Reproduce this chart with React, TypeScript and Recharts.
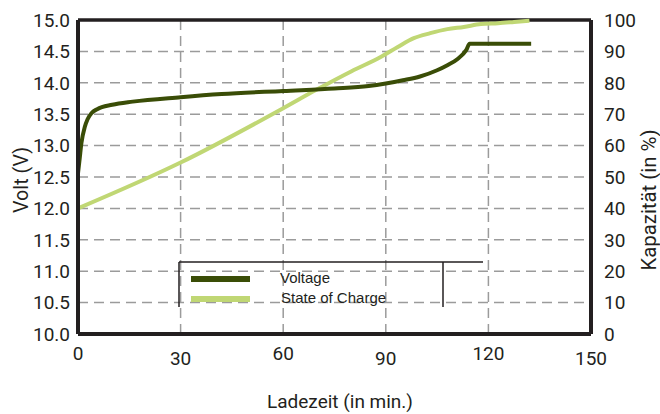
import React from "react";
import {
  LineChart,
  Line,
  XAxis,
  YAxis,
  CartesianGrid,
  ReferenceLine,
} from "recharts";

// Ladekurve: Spannung (V) und Ladezustand (%) über die Ladezeit (min)
const voltageMinutes = [0, 0.5, 1, 2, 2.8, 4, 5.6, 10, 16, 30, 42, 60, 75, 85, 90, 95, 100, 105, 108, 111, 113.5, 114.5, 132.5];
const voltageValues = [12.56, 12.8, 13.04, 13.3, 13.42, 13.52, 13.58, 13.65, 13.7, 13.77, 13.82, 13.87, 13.91, 13.95, 13.99, 14.04, 14.1, 14.2, 14.28, 14.38, 14.52, 14.62, 14.62];

const socMinutes = [0, 30, 60, 69.4, 80, 88.5, 93.5, 98.2, 103, 108, 112.8, 117.8, 122.8, 127.5, 132];
const socValues = [40, 54.6, 71.9, 77.6, 83.7, 88.2, 91.4, 94.2, 95.8, 97.1, 97.8, 98.7, 99.0, 99.4, 99.8];

const timeTicks = [0, 30, 60, 90, 120, 150];
const voltTicks = [10, 10.5, 11, 11.5, 12, 12.5, 13, 13.5, 14, 14.5, 15];
const percentTicks = [0, 10, 20, 30, 40, 50, 60, 70, 80, 90, 100];

const seriesNames = ["Voltage", "State of Charge"];

const DARK = "#3a4d07";
const LIGHT = "#c0d774";
const INK = "#231f20";
const GRID = "#9b9b9b";
const FONT = "Roboto";

const voltageData = voltageMinutes.map((t, i) => ({ t, v: voltageValues[i] }));
const socData = socMinutes.map((t, i) => ({ t, soc: socValues[i] }));

const tickStyle = { fill: INK, fontSize: 19, fontFamily: FONT };

// x-axis labels sit slightly staggered in the original
const TimeTick = ({ x, y, payload, index }: any) => (
  <text
    x={x}
    y={y + (index % 2 ? 5 : 0)}
    dy="0.71em"
    textAnchor="middle"
    fill={INK}
    fontSize={19}
    fontFamily={FONT}
  >
    {payload.value}
  </text>
);

const axisTitle = (text: string, dx: number, dy: number, angle: number, length: number, size = 19) =>
  ({ viewBox }: any) => {
    const cx = viewBox.x + dx;
    const cy = viewBox.y + dy;
    return (
      <text
        x={cx}
        y={cy}
        transform={angle ? `rotate(${angle}, ${cx}, ${cy})` : undefined}
        textAnchor="middle"
        dominantBaseline="central"
        fill={INK}
        fontSize={size}
        fontFamily={FONT}
        textLength={length}
        lengthAdjust="spacingAndGlyphs"
      >
        {text}
      </text>
    );
  };

function ChartLegend() {
  return (
    <svg
      width={660}
      height={414}
      style={{ position: "absolute", left: 0, top: 0, pointerEvents: "none" }}
    >
      <line x1={179} y1={262} x2={483} y2={262} stroke={INK} strokeWidth={1.5} />
      <line x1={179} y1={262} x2={179} y2={307} stroke={INK} strokeWidth={1.5} />
      <line x1={443} y1={262} x2={443} y2={307} stroke={INK} strokeWidth={1.5} />
      <rect x={191} y={276} width={59} height={6} fill={DARK} />
      <rect x={191} y={296} width={59} height={6} fill={LIGHT} />
      <text x={280} y={283} fontSize={15} fontFamily="Liberation Sans, Arial" fill={INK}>
        {seriesNames[0]}
      </text>
      <text x={281} y={303} fontSize={15} fontFamily="Liberation Sans, Arial" fill={INK}>
        {seriesNames[1]}
      </text>
    </svg>
  );
}

export default function App() {
  return (
    <div style={{ position: "relative", width: 660, height: 414, background: "#fff" }}>
      <style>{`body{margin:0}`}</style>
      <LineChart width={660} height={414} margin={{ top: 20, right: 0, bottom: 0, left: 0 }}>
        <CartesianGrid
          yAxisId="left"
          stroke={GRID}
          strokeWidth={1.5}
          strokeDasharray="10 6"
        />
        <XAxis
          dataKey="t"
          type="number"
          domain={[0, 150]}
          ticks={timeTicks}
          interval={0}
          height={80}
          axisLine={{ stroke: INK, strokeWidth: 4 }}
          tickLine={false}
          tickMargin={7}
          tick={<TimeTick />}
          label={{ content: axisTitle("Ladezeit (in min.)", 262, 67, 0, 146) }}
          allowDuplicatedCategory={false}
        />
        <YAxis
          yAxisId="left"
          type="number"
          domain={[10, 15]}
          ticks={voltTicks}
          interval={0}
          width={78}
          axisLine={{ stroke: INK, strokeWidth: 4 }}
          tickLine={false}
          tick={tickStyle}
          tickFormatter={(v: number) => v.toFixed(1)}
          label={{ content: axisTitle("Volt (V)", 21, 160, -90, 66, 20) }}
        />
        <YAxis
          yAxisId="right"
          orientation="right"
          type="number"
          domain={[0, 100]}
          ticks={percentTicks}
          interval={0}
          width={69}
          axisLine={{ stroke: INK, strokeWidth: 4 }}
          tickLine={false}
          tickMargin={7}
          tick={{ ...tickStyle, textAnchor: "start" }}
          label={{ content: axisTitle("Kapazität (in %)", 58, 180, -90, 141, 21) }}
        />
        <ReferenceLine yAxisId="left" y={15} stroke={INK} strokeWidth={3.5} />
        <Line
          yAxisId="right"
          data={socData}
          dataKey="soc"
          name={seriesNames[1]}
          type="monotone"
          stroke={LIGHT}
          strokeWidth={4}
          dot={false}
          isAnimationActive={false}
        />
        <Line
          yAxisId="left"
          data={voltageData}
          dataKey="v"
          name={seriesNames[0]}
          type="monotone"
          stroke={DARK}
          strokeWidth={4}
          dot={false}
          isAnimationActive={false}
        />
      </LineChart>
      <ChartLegend />
    </div>
  );
}
